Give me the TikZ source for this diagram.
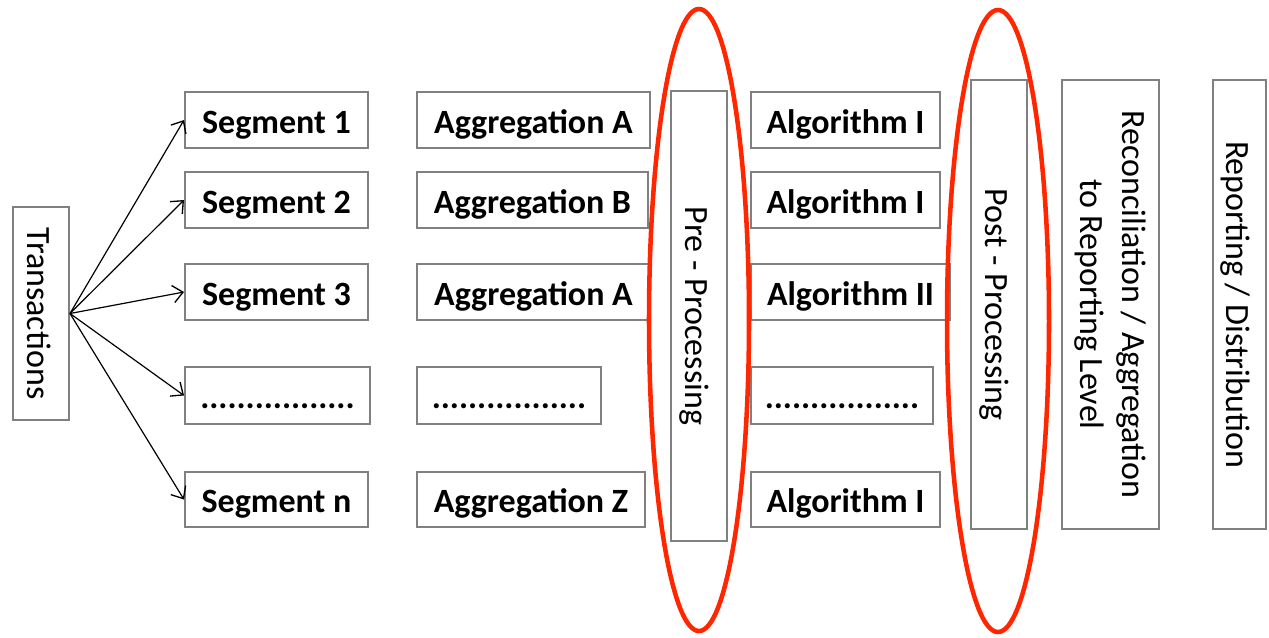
\documentclass[tikz,border=0pt]{standalone}
\usepackage{fontspec}
\setmainfont{Carlito}
\usetikzlibrary{arrows.meta,shapes.geometric}
\definecolor{framegray}{RGB}{128,128,128}
\definecolor{ringred}{RGB}{255,38,0}
\newcommand{\fillers}{.................}
\begin{document}
\begin{tikzpicture}[x=0.75pt,y=-0.75pt,
  oneline/.style={text height=20pt, text depth=0pt},
  cell/.style 2 args={draw=framegray, line width=1.5pt, fill=white, inner sep=0pt,
    minimum width=#1*0.75pt, minimum height=#2*0.75pt, oneline,
    font=\fontsize{25.5}{30}\selectfont\bfseries},
  bar/.style 2 args={draw=framegray, line width=1.5pt, fill=white, inner sep=0pt,
    rotate=-90, minimum width=#2*0.75pt, minimum height=#1*0.75pt, align=center,
    font=\fontsize{25.5}{31}\selectfont},
  feed/.style={-{Straight Barb[length=7.5pt,width=13pt,line width=1pt]}, line width=0.9pt},
  ring/.style={ellipse, draw=ringred, line width=3.4pt, inner sep=0pt}]
\useasboundingbox (0,0) rectangle (1269,637);

% source
\node[bar={56}{213}, oneline] (trans) at (41,313.5) {Transactions};

% segments
\node[cell={183}{56}] (seg1) at (276.5,120) {Segment 1};
\node[cell={183}{56}] (seg2) at (276.5,200) {Segment 2};
\node[cell={183}{56}] (seg3) at (276.5,292) {Segment 3};
\node[cell={185}{57}] (segd) at (277.5,395.5) {\fillers};
\node[cell={183}{55}] (segn) at (276.5,499.5) {Segment n};

% aggregations
\node[cell={233}{56}] (agg1) at (533.5,120) {Aggregation A};
\node[cell={231}{56}] (agg2) at (532.5,200) {Aggregation B};
\node[cell={233}{56}] (agg3) at (533.5,292) {Aggregation A};
\node[cell={184}{57}] (aggd) at (509,395.5) {\fillers};
\node[cell={228}{55}] (aggz) at (531,499.5) {Aggregation Z};

% pre-processing
\node[bar={56}{450}, oneline] (pre) at (699,316) {Pre - Processing};

% algorithms
\node[cell={189}{56}] (alg1) at (845.5,120) {Algorithm I};
\node[cell={189}{56}] (alg2) at (845.5,200) {Algorithm I};
\node[cell={199}{56}] (alg3) at (850.5,292) {Algorithm II};
\node[cell={182}{57}] (algd) at (842,395.5) {\fillers};
\node[cell={189}{55}] (alg5) at (845.5,499.5) {Algorithm I};

% downstream stages
\node[bar={56}{449}, oneline] (post) at (999,304.5) {Post - Processing};
\node[bar={97}{449}] (recon) at (1110.5,304.5) {Reconciliation / Aggregation\\to Reporting Level};
\node[bar={53}{449}, oneline] (report) at (1239.5,304.5) {Reporting / Distribution};

% fan-out of transactions
\foreach \s in {seg1,seg2,seg3,segd,segn}
  \draw[feed] (trans.north) -- (\s.west);

% highlighted stages
\node[ring, minimum width=100*0.75pt, minimum height=622*0.75pt] (preRing) at (699,320) {};
\node[ring, minimum width=102*0.75pt, minimum height=622*0.75pt] (postRing) at (998,321) {};
\end{tikzpicture}
\end{document}
